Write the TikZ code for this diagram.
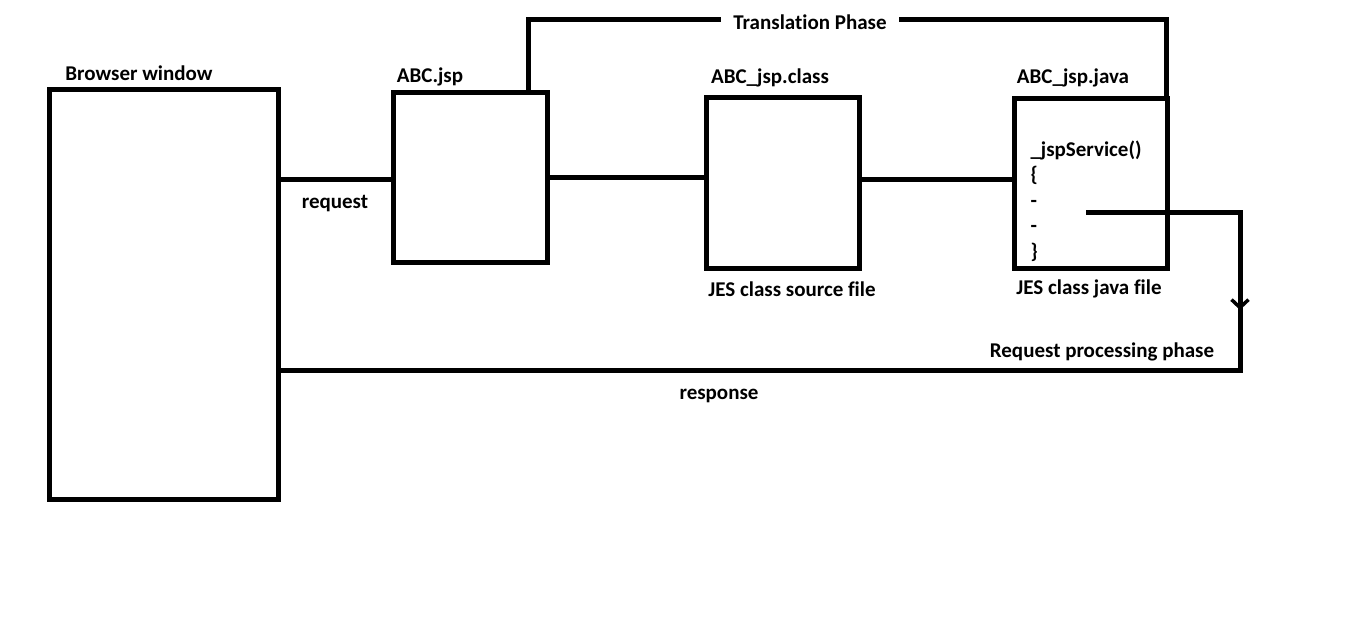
\documentclass[tikz,border=0pt]{standalone}
\usepackage{fontspec}
\setmainfont{Carlito}[Ligatures={NoCommon}]
\usetikzlibrary{arrows.meta, decorations.markings}

\begin{document}
\begin{tikzpicture}[x=1pt, y=-1pt, line width=5pt,
  box/.style={draw, inner sep=0pt, outer sep=0pt},
  lbl/.style={font=\bfseries\fontsize{21}{25.5}\selectfont, inner sep=0pt},
  downtip/.style={postaction={decorate, decoration={markings,
    mark=at position 252pt with {\arrow[line width=3.5pt]{Straight Barb[length=8pt,width=17pt]}}}}}]
  \useasboundingbox (0,0) rectangle (1360,623);

  % the four boxes
  \node[box, minimum width=229pt, minimum height=409pt] (browser) at (163.5,294.5) {};
  \node[box, minimum width=154pt, minimum height=169pt] (jsp) at (470,177.5) {};
  \node[box, minimum width=153pt, minimum height=170pt] (cls) at (782.5,183) {};
  \node[box, minimum width=153pt, minimum height=169pt] (java) at (1090.5,183.5) {};

  % titles and captions
  \node[lbl] (browsert) at (139,73) {Browser window};
  \node[lbl] (jspt) at (430,77) {ABC.jsp};
  \node[lbl] (clst) at (770,78) {ABC\_jsp.class};
  \node[lbl] (javat) at (1073,78) {ABC\_jsp.java};
  \node[lbl] (req) at (335,204) {request};
  \node[lbl] (clsc) at (792,289) {JES class source file};
  \node[lbl] (javac) at (1089,289) {JES class java file};
  \node[lbl] (rpp) at (1102,352) {Request processing phase};
  \node[lbl] (resp) at (719,396) {response};
  \node[lbl, inner xsep=10pt] (tp) at (810,22) {Translation Phase};
  \node[lbl, anchor=north west, align=left] (code) at (1028,138)
    {\_jspService()\\\{\\-\\-\\\}};

  % request path
  \draw (browser.east |- 0,179) -- (jsp.west |- 0,179);
  \draw (jsp.east |- 0,177) -- (cls.west |- 0,177);
  \draw (cls.east |- 0,179) -- (java.west |- 0,179);

  % translation phase bracket
  \coordinate (tl) at (528,20);
  \coordinate (tr) at (1166,20);
  \draw (jsp.north -| tl) -- (tl) -- (tp.west |- tl);
  \draw (tp.east |- tr) -- (tr) -- (java.north -| tr);

  % response back to the browser
  \coordinate (svc) at (1086,212);
  \coordinate (turn) at (1240,370);
  \draw[downtip] (svc) -| (turn) -- (browser.east |- turn);
\end{tikzpicture}
\end{document}
